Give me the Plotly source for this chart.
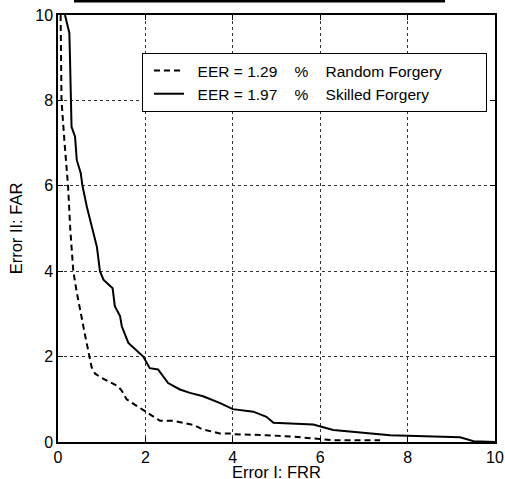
import plotly.graph_objects as go

# Random forgery (dashed) curve: FRR (x) vs FAR (y)
random_frr = [0.06, 0.08, 0.15, 0.23, 0.28, 0.31, 0.35, 0.43, 0.52, 0.62, 0.72, 0.77, 0.85, 1.0, 1.19,
              1.38, 1.46, 1.57, 1.72, 1.88, 2.03, 2.18, 2.33, 2.63, 2.87, 3.1, 3.3, 3.48, 3.7, 3.93,
              4.0, 4.77, 5.39, 6.0, 6.3, 7.37]
random_far = [10.0, 8.0, 7.0, 6.0, 5.0, 4.5, 4.0, 3.5, 3.0, 2.5, 2.0, 1.75, 1.6, 1.5, 1.4,
              1.3, 1.2, 1.0, 0.9, 0.8, 0.7, 0.6, 0.5, 0.5, 0.45, 0.4, 0.3, 0.25, 0.2, 0.2,
              0.18, 0.16, 0.125, 0.07, 0.04, 0.04]

# Skilled forgery (solid) curve
skilled_frr = [0.16, 0.26, 0.27, 0.3, 0.31, 0.39, 0.43, 0.52, 0.56, 0.66, 0.81, 0.89, 0.96, 1.04, 1.25,
               1.3, 1.42, 1.46, 1.61, 1.95, 2.1, 2.29, 2.52, 2.79, 3.02, 3.32, 3.71, 4.0, 4.47, 4.77,
               4.93, 5.84, 6.3, 6.91, 7.6, 9.2, 9.51, 10.0]
skilled_far = [10.0, 9.58, 9.18, 8.0, 7.38, 7.15, 6.6, 6.3, 6.0, 5.51, 4.89, 4.57, 4.0, 3.8, 3.6,
               3.18, 2.95, 2.71, 2.32, 2.0, 1.73, 1.7, 1.38, 1.23, 1.15, 1.07, 0.91, 0.77, 0.71, 0.59,
               0.45, 0.41, 0.28, 0.22, 0.16, 0.11, 0.02, 0.0]

NB = "\u00a0"
series_names = [NB * 2 + "EER = 1.29" + NB * 4 + "%" + NB * 4 + "Random Forgery" + NB * 9,
                NB * 2 + "EER = 1.97" + NB * 4 + "%" + NB * 4 + "Skilled Forgery" + NB * 9]
tick_vals = [0, 2, 4, 6, 8, 10]
tick_text = ["0", "2", "4", "6", "8", "10"]
x_title = "Error I: FRR"
y_title = "Error II: FAR"

FONT = "Liberation Sans, Arial, Helvetica, sans-serif"

fig = go.Figure()
fig.add_trace(go.Scatter(x=random_frr, y=random_far, mode="lines", name=series_names[0],
                         line=dict(color="black", width=2, dash="6px,4px")))
fig.add_trace(go.Scatter(x=skilled_frr, y=skilled_far, mode="lines", name=series_names[1],
                         line=dict(color="black", width=2)))

axis_common = dict(
    range=[0, 10], tickvals=tick_vals, ticktext=tick_text, automargin=False,
    showgrid=True, gridcolor="#333333", griddash="dot", gridwidth=1,
    zeroline=False, showline=True, linecolor="black", linewidth=1.5, mirror="ticks",
    ticks="inside", ticklen=5, tickcolor="black", tickwidth=1,
    tickfont=dict(family=FONT, size=16, color="black"),
)

fig.update_layout(
    width=505, height=479,
    margin=dict(l=58, r=10, t=15, b=37),
    paper_bgcolor="white", plot_bgcolor="white",
    font=dict(family=FONT, size=16, color="black"),
    xaxis=dict(**axis_common),
    yaxis=dict(**axis_common, title=dict(text=y_title, standoff=8,
                                          font=dict(family=FONT, size=16.5))),
    showlegend=True,
    legend=dict(x=(142 - 58) / 437, y=(442 - 53) / 427, xanchor="left", yanchor="top",
                bgcolor="white", bordercolor="black", borderwidth=1,
                font=dict(family=FONT, size=15.5, color="black"),
                indentation=6, tracegroupgap=0),
    annotations=[dict(text=x_title, xref="paper", yref="paper", x=0.5, y=0,
                      xanchor="center", yanchor="top", yshift=-19, showarrow=False,
                      font=dict(family=FONT, size=16.5, color="black"))],
    shapes=[dict(type="line", xref="paper", yref="paper",
                 x0=(74 - 58) / 437, x1=(445 - 58) / 437,
                 y0=(442 - 1) / 427, y1=(442 - 1) / 427,
                 line=dict(color="black", width=3))],
)

fig.write_html("out.html", config={"displayModeBar": False},
               post_script="document.body.style.margin='0';document.body.style.overflow='hidden';")
